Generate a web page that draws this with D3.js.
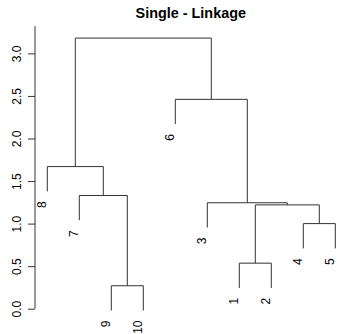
<!DOCTYPE html>
<html>
<head>
<meta charset="utf-8">
<script src="https://cdn.jsdelivr.net/npm/d3@7/dist/d3.min.js"></script>
<style>
  html, body { margin: 0; padding: 0; background: #fff; }
  svg { display: block; }
  text { font-family: "Liberation Sans", Arial, Helvetica, sans-serif; fill: #000; }
</style>
</head>
<body>
<svg id="chart" width="337" height="334"></svg>
<script>
// Observation labels and the left-to-right leaf order of the dendrogram
const leafLabels = ["1", "2", "3", "4", "5", "6", "7", "8", "9", "10"];
const leafOrder = [8, 7, 9, 10, 6, 3, 1, 2, 4, 5];

// Merge steps (hclust convention: negative = single observation, positive = earlier merge step)
const mergeLeft  = [-9, -1, -4, 2, -3, -7, -8, -6, 7];
const mergeRight = [-10, -2, -5, 3, 4, 1, 6, 5, 8];
const mergeHeight = [0.27, 0.535, 1.00, 1.22, 1.245, 1.33, 1.67, 2.46, 3.18];

const yTicks = [0, 0.5, 1, 1.5, 2, 2.5, 3];
const yTickLabels = ["0.0", "0.5", "1.0", "1.5", "2.0", "2.5", "3.0"];
const titleText = "Single - Linkage";

const svg = d3.select("#chart");

const x = d3.scalePoint()
  .domain(leafOrder)
  .range([47.3, 335.3]);

const y = d3.scaleLinear()
  .domain([0, 3])
  .range([308.7, 53.4]);

// Leaves hang below their merge by a tenth of the height range
const hang = 0.1 * (d3.max(mergeHeight) - d3.min(mergeHeight));

// Horizontal position of each merge step is the midpoint of its two children
const nodeX = [];
function childX(c) { return c < 0 ? x(-c) : nodeX[c - 1]; }
function childH(c, parentH) { return c < 0 ? parentH - hang : mergeHeight[c - 1]; }
mergeHeight.forEach((h, i) => {
  nodeX[i] = (childX(mergeLeft[i]) + childX(mergeRight[i])) / 2;
});

const segs = [];
const leafEnds = [];
mergeHeight.forEach((h, i) => {
  const a = mergeLeft[i], b = mergeRight[i];
  const xa = childX(a), xb = childX(b);
  segs.push([xa, h, xb, h]);
  segs.push([xa, h, xa, childH(a, h)]);
  segs.push([xb, h, xb, childH(b, h)]);
  [a, b].forEach(c => { if (c < 0) leafEnds.push({ id: -c, h: h - hang }); });
});

const g = svg.append("g");
g.selectAll("line.edge")
  .data(segs)
  .join("line")
  .attr("class", "edge")
  .attr("x1", d => d[0]).attr("y1", d => y(d[1]))
  .attr("x2", d => d[2]).attr("y2", d => y(d[3]))
  .attr("stroke", "#333")
  .attr("stroke-width", 1)
  .attr("fill", "none");

// Leaf labels, rotated to read upwards, hanging below each leaf end
g.selectAll("text.leaf")
  .data(leafEnds)
  .join("text")
  .attr("class", "leaf")
  .attr("transform", d => `translate(${x(d.id)},${y(d.h) + 10}) rotate(-90)`)
  .attr("text-anchor", "end")
  .attr("dy", "-0.08em")
  .style("font-size", "12px")
  .text(d => leafLabels[d.id - 1]);

// Y axis
const axisG = svg.append("g").attr("transform", "translate(35,0)");
axisG.append("line")
  .attr("x1", 0).attr("x2", 0)
  .attr("y1", y(0)).attr("y2", y(3.32))
  .attr("stroke", "#333");
const yAxis = d3.axisLeft(y)
  .tickValues(yTicks)
  .tickFormat((d, i) => yTickLabels[i])
  .tickSize(7)
  .tickPadding(0);
const ax = axisG.append("g").call(yAxis);
ax.select(".domain").remove();
ax.selectAll(".tick line").attr("stroke", "#333");
ax.selectAll(".tick text")
  .attr("x", 0).attr("y", 0)
  .attr("dy", null)
  .attr("transform", "translate(-18,0) rotate(-90)")
  .attr("text-anchor", "middle")
  .attr("dominant-baseline", "central")
  .style("font-size", "12px")
  .style("font-family", "'Liberation Sans', Arial, sans-serif")
  .attr("fill", "#000");

// Title
svg.append("text")
  .attr("x", 190.8)
  .attr("y", 17.6)
  .attr("text-anchor", "middle")
  .style("font-size", "14.4px")
  .style("font-weight", "bold")
  .text(titleText);
</script>
</body>
</html>
